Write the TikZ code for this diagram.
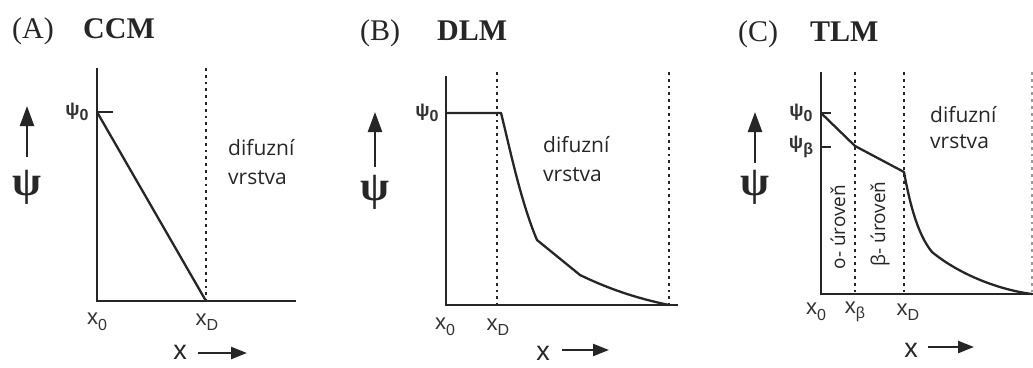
\documentclass[tikz,border=0pt]{standalone}
\usepackage{fontspec}
\setmainfont{Liberation Serif}
\newfontfamily\labfont{Liberation Sans}
\newfontfamily\txtfont{Open Sans}
\usetikzlibrary{arrows.meta}
\newcommand\lsub[2]{#1\raisebox{-5.5pt}{\fontsize{16}{16}\selectfont #2}}
\begin{document}
\begin{tikzpicture}[x=1pt,y=-1pt,
  ink/.style={draw=black!85},
  axis/.style={ink, line width=2.6pt},
  curve/.style={ink, line width=2.3pt, line join=round},
  dots/.style={ink, line width=2.8pt, dash pattern=on 2.8pt off 4pt},
  ttl/.style={font=\fontsize{30}{30}\selectfont, anchor=base west, inner sep=0pt, text=black!85},
  ttlb/.style={ttl, font=\fontsize{30}{30}\selectfont\bfseries},
  psiarrow/.style={ink, line width=2.4pt, -{Triangle[length=20pt,width=14pt]}},
  xarrow/.style={ink, line width=2.4pt, -{Triangle[length=16pt,width=12pt]}},
  psi/.style={font=\fontsize{42}{42}\selectfont\bfseries, inner sep=0pt, text=black!85},
  lab/.style={font=\labfont\fontsize{22}{22}\selectfont, inner sep=0pt, text=black!80},
  plab/.style={font=\labfont\bfseries\fontsize{19}{19}\selectfont, inner sep=0pt, text=black!80},
  bigx/.style={font=\labfont\fontsize{27}{27}\selectfont, inner sep=0pt, text=black!85},
  txt/.style={font=\txtfont\fontsize{21}{21}\selectfont, inner sep=0pt, anchor=west, text=black!85},
  rtxt/.style={font=\txtfont\fontsize{19}{19}\selectfont, inner sep=0pt, rotate=90, text=black!85}
]
\useasboundingbox (0,0) rectangle (1033,367);
\fill[white] (0,0) rectangle (1033,367);

% ---------------- Panel A ----------------
\node[ttl] (aA) at (12,38) {(A)};
\node[ttlb] (aT) at (83,38) {CCM};
\coordinate (a-top) at (97,68);
\coordinate (a-o) at (97,301);
\coordinate (a-end) at (296,301);
\coordinate (a-p0) at (97,112);
\coordinate (a-tick) at (113,112);
\coordinate (a-D) at (206,301);
\coordinate (a-Dtop) at (206,68);
\draw[dots] (a-Dtop) -- (a-D);
\draw[axis] (a-top) -- (a-o) -- (a-end);
\draw[axis] (a-p0) -- (a-tick);
\draw[curve] (a-p0) -- (a-D);
\node[plab] (a-psi0) at (77,112) {\lsub{ψ}{0}};
\coordinate (a-ar1) at (27,157);
\coordinate (a-ar2) at (27,106);
\draw[psiarrow] (a-ar1) -- (a-ar2);
\node[psi] (a-psi) at (27,187) {ψ};
\node[txt] (a-t1) at (228,148) {difuzní};
\node[txt] (a-t2) at (228,178) {vrstva};
\node[lab] (a-x0) at (97,322) {\lsub{x}{0}};
\node[lab] (a-xD) at (207,322) {\lsub{x}{D}};
\node[bigx] (a-X) at (180,352) {x};
\coordinate (a-xa1) at (198,353);
\coordinate (a-xa2) at (247,353);
\draw[xarrow] (a-xa1) -- (a-xa2);

% ---------------- Panel B ----------------
\node[ttl] (bB) at (360,40) {(B)};
\node[ttlb] (bT) at (437,40) {DLM};
\coordinate (b-top) at (446,76);
\coordinate (b-o) at (446,305);
\coordinate (b-end) at (678,305);
\coordinate (b-p0) at (446,113);
\coordinate (b-k) at (501,113);
\coordinate (b-D) at (497,305);
\coordinate (b-Dtop) at (497,72);
\coordinate (b-R) at (669,305);
\coordinate (b-Rtop) at (669,72);
\draw[dots] (b-Dtop) -- (b-D);
\draw[dots] (b-Rtop) -- (b-R);
\draw[axis] (b-top) -- (b-o) -- (b-end);
\draw[curve] (b-p0) -- (b-k)
  .. controls (508,140) and (520,200) .. (537,240)
  -- (580,275)
  .. controls (615,292) and (645,300) .. (b-R);
\node[plab] (b-psi0) at (427,113) {\lsub{ψ}{0}};
\coordinate (b-ar1) at (375,167);
\coordinate (b-ar2) at (375,112);
\draw[psiarrow] (b-ar1) -- (b-ar2);
\node[psi] (b-psi) at (375,192) {ψ};
\node[txt] (b-t1) at (543,145) {difuzní};
\node[txt] (b-t2) at (543,175) {vrstva};
\node[lab] (b-x0) at (445,327) {\lsub{x}{0}};
\node[lab] (b-xD) at (498,327) {\lsub{x}{D}};
\node[bigx] (b-X) at (543,353) {x};
\coordinate (b-xa1) at (562,350);
\coordinate (b-xa2) at (609,350);
\draw[xarrow] (b-xa1) -- (b-xa2);

% ---------------- Panel C ----------------
\node[ttl] (cC) at (738,41) {(C)};
\node[ttlb] (cT) at (810,41) {TLM};
\coordinate (c-top) at (821,72);
\coordinate (c-o) at (821,294);
\coordinate (c-end) at (1033,294);
\coordinate (c-p0) at (821,113);
\coordinate (c-t0) at (831,113);
\coordinate (c-pb) at (821,147);
\coordinate (c-tb) at (831,147);
\coordinate (c-B) at (855,294);
\coordinate (c-Btop) at (855,72);
\coordinate (c-D) at (904,294);
\coordinate (c-Dtop) at (904,72);
\coordinate (c-R) at (1032,294);
\coordinate (c-Rtop) at (1032,72);
\coordinate (c-kb) at (855,146);
\coordinate (c-kd) at (904,172);
\draw[dots] (c-Btop) -- (c-B);
\draw[dots] (c-Dtop) -- (c-D);
\draw[dots, draw=black!40, line width=1.2pt] (c-Rtop) -- (c-R);
\draw[axis] (c-top) -- (c-o) -- (c-end);
\draw[axis] (c-p0) -- (c-t0);
\draw[axis] (c-pb) -- (c-tb);
\draw[curve] (c-p0) -- (c-kb) -- (c-kd)
  .. controls (910,205) and (918,235) .. (932,252)
  .. controls (960,275) and (1000,290) .. (c-R);
\node[plab] (c-psi0) at (801,113) {\lsub{ψ}{0}};
\node[plab] (c-psib) at (801,147) {\lsub{ψ}{β}};
\coordinate (c-ar1) at (755,163);
\coordinate (c-ar2) at (755,112);
\draw[psiarrow] (c-ar1) -- (c-ar2);
\node[psi] (c-psi) at (755,187) {ψ};
\node[txt] (c-t1) at (930,115) {difuzní};
\node[txt] (c-t2) at (930,142) {vrstva};
\node[rtxt] (c-r1) at (838,227) {o- úroveň};
\node[rtxt] (c-r2) at (880,224) {β- úroveň};
\node[lab] (c-x0) at (816,312) {\lsub{x}{0}};
\node[lab] (c-xb) at (855,312) {\lsub{x}{β}};
\node[lab] (c-xD) at (908,312) {\lsub{x}{D}};
\node[bigx] (c-X) at (911,350) {x};
\coordinate (c-xa1) at (928,347);
\coordinate (c-xa2) at (974,347);
\draw[xarrow] (c-xa1) -- (c-xa2);
\end{tikzpicture}
\end{document}
